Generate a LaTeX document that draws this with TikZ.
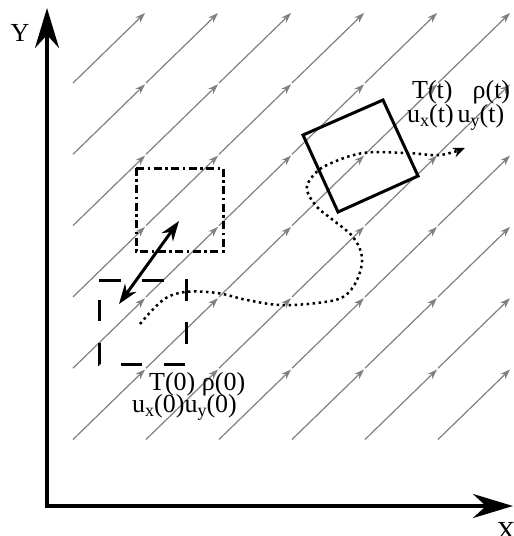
\documentclass[tikz,border=0pt]{standalone}
\usepackage{fontspec}
\setmainfont{Liberation Serif}
\usetikzlibrary{arrows.meta}

\newcommand\subtxt[1]{\raisebox{-4.5pt}{\fontsize{18}{18}\selectfont #1}}

\tikzset{
  flow/.style={draw=gray, line width=1.2pt, -{Stealth[length=10pt,width=7pt]}},
  axis/.style={line width=4pt, line join=miter},
  label/.style={font=\fontsize{26}{26}\selectfont, inner sep=0pt},
  cellbox/.style={line width=3pt},
  traj/.style={line width=2.5pt, dash pattern=on 2.5pt off 3.5pt, -{Stealth[length=12pt,width=10pt]}}
}

\begin{document}
\begin{tikzpicture}[x=1pt, y=-1pt]
\useasboundingbox (0,0) rectangle (514,536);

% velocity field
\foreach \i in {0,...,5}
  \foreach \j in {0,...,5}
    \draw[flow] ({73+73*\i},{83+71.3*\j}) -- ++(72,-70);

% axes
\coordinate (O) at (47,506);
\coordinate (Ytip) at (47,8);
\coordinate (Xtip) at (513,506);
\draw[axis, {Stealth[length=40pt,width=24pt]}-{Stealth[length=40pt,width=24pt]}] (Ytip) -- (O) -- (Xtip);
\node[label] (ylab) at (20,33) {Y};
\node[label] (xlab) at (506,531) {X};

% initial cell
\draw[cellbox, dash pattern=on 21.5pt off 21.5pt] (99,280) -- (186,280) -- (186,364) -- (99,364) -- cycle;
\draw[cellbox, dash pattern=on 8pt off 3.5pt on 2.5pt off 3.5pt] (136,168) -- (223,168) -- (223,251) -- (136,251) -- cycle;
\coordinate (s0) at (119,304);
\coordinate (s1) at (179,221);
\draw[line width=3pt, {Stealth[length=20pt,width=14pt]}-{Stealth[length=20pt,width=14pt]}] (s0) -- (s1);

% trajectory
\draw[traj] plot[smooth, tension=0.6] coordinates {(140,324) (163,300) (185,292) (217,293) (247,300) (280,305) (317,303) (343,297) (357,280) (362,257) (353,237) (333,220) (317,207) (307,190) (312,177) (327,165) (363,153) (407,153) (440,155) (465,148)};

% cell at time t
\draw[cellbox] (303,135) -- (383,100) -- (418,176) -- (338,212) -- cycle;

% Labels
\node[label, anchor=base west] (t0a) at (149,390) {T(0) ρ(0)};
\node[label, anchor=base west] (t0b) at (132,412) {u\subtxt{x}(0)u\subtxt{y}(0)};
\node[label, anchor=base west] (tta) at (412,98) {T(t)\hspace{20pt}ρ(t)};
\node[label, anchor=base west] (ttb) at (407,122) {u\subtxt{x}(t)\hspace{4pt}u\subtxt{y}(t)};

\end{tikzpicture}
\end{document}
